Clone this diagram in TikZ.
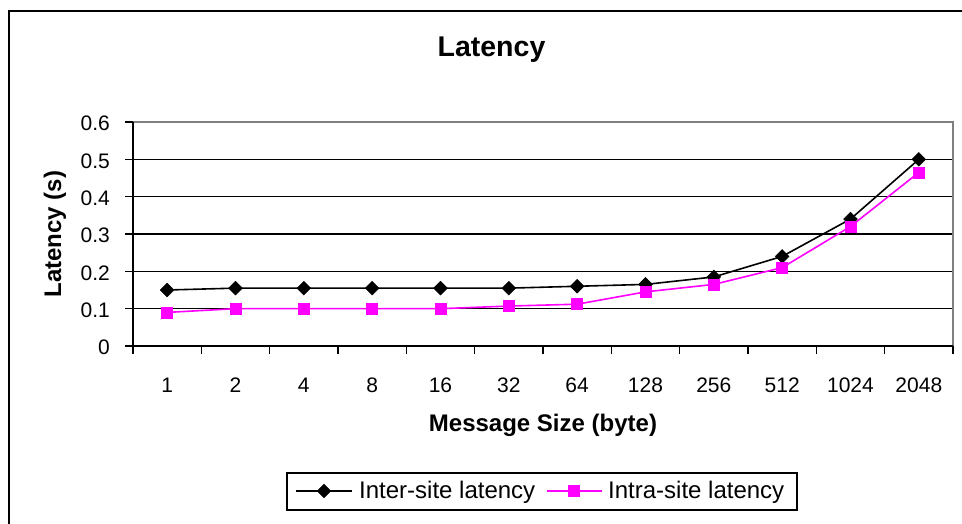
\documentclass[tikz,border=0pt]{standalone}
\usepackage{fontspec}
\setmainfont{Liberation Sans}
\usepackage{tikz}
\usetikzlibrary{shapes.geometric}

\definecolor{intracol}{RGB}{255,0,255}

\tikzset{
  ticklabel/.style = {font=\fontsize{21}{24}\selectfont, inner sep=0pt},
  axistitle/.style = {font=\fontsize{24}{28}\selectfont\bfseries, inner sep=0pt},
  legendtext/.style = {font=\fontsize{24}{28}\selectfont, inner sep=0pt, anchor=west},
  intermark/.style = {diamond, fill=black, draw=black, inner sep=0pt, minimum size=14pt},
  intramark/.style = {rectangle, fill=intracol, draw=intracol, inner sep=0pt, minimum size=11pt},
}

\begin{document}
\begin{tikzpicture}[x=1pt, y=-1pt]
		\useasboundingbox (0, 0) rectangle (962, 523);
		% chart frame
		\draw [line width = 2.5pt] (9, 11) rectangle (980, 540);
		\node [axistitle, font=\fontsize{28.5}{32}\selectfont\bfseries, anchor=base] (title) at (491.5, 56) {Latency};
		% grid and value axis
		\foreach \v/\lab in {0.1/0.1, 0.2/0.2, 0.3/0.3, 0.4/0.4, 0.5/0.5} {
			\draw [line width = 1.3pt] (133, {346-\v*373.33}) -- (953, {346-\v*373.33});
		}
		\draw [gray, line width = 1.5pt] (133, 122) -- (953, 122) -- (953, 346);
		\foreach \v/\lab in {0/0, 0.1/0.1, 0.2/0.2, 0.3/0.3, 0.4/0.4, 0.5/0.5, 0.6/0.6} {
			\draw [line width = 1.3pt] (125, {346-\v*373.33}) -- (133, {346-\v*373.33});
			\node [ticklabel, anchor=east] (y\lab) at (110, {347.5-\v*373.33}) {\lab};
		}
		\draw [line width = 1.5pt] (133, 122) -- (133, 354);
		\draw [line width = 1.5pt] (133, 346) -- (953, 346);
		% category axis
		\foreach \i in {1, ..., 12} {
			\draw [line width = 1.3pt] ({133+\i*68.333}, 346) -- ({133+\i*68.333}, 354);
		}
		\foreach \lab [count = \i] in {1, 2, 4, 8, 16, 32, 64, 128, 256, 512, 1024, 2048} {
			\node [ticklabel, anchor=base] (x\i) at ({133+(\i-0.5)*68.333}, 392) {\lab};
		}
		\node [axistitle, anchor=base] (xtitle) at (543, 431) {Message Size (byte)};
		\node [axistitle, rotate=90] (ytitle) at (55, 234) {Latency (s)};
		% data
		\foreach \v [count = \i] in {0.15, 0.155, 0.155, 0.155, 0.155, 0.155, 0.16, 0.165, 0.185, 0.24, 0.34, 0.5} {
			\coordinate (a\i) at ({133+(\i-0.5)*68.333}, {346-\v*373.33});
		}
		\foreach \v [count = \i] in {0.09, 0.1, 0.1, 0.1, 0.1, 0.107, 0.112, 0.145, 0.165, 0.21, 0.32, 0.465} {
			\coordinate (b\i) at ({133+(\i-0.5)*68.333}, {346-\v*373.33});
		}
		\draw [line width = 1.6pt] (a1) \foreach \i in {2, ..., 12} { -- (a\i) };
		\draw [intracol, line width = 1.6pt] (b1) \foreach \i in {2, ..., 12} { -- (b\i) };
		\foreach \i in {1, ..., 12} {
			\node [intermark] (ma\i) at (a\i) {};
			\node [intramark] (mb\i) at (b\i) {};
		}
		% legend
		\draw [line width = 1.3pt] (287, 473) rectangle (797, 510);
		\coordinate (l1s) at (296, 491);
		\coordinate (l1e) at (352, 491);
		\draw [line width = 1.6pt] (l1s) -- (l1e);
		\node [intermark] (la) at (324, 491) {};
		\node [legendtext] (ltxa) at (359, 492) {Inter-site latency};
		\coordinate (l2s) at (547, 491);
		\coordinate (l2e) at (602, 491);
		\draw [intracol, line width = 1.6pt] (l2s) -- (l2e);
		\node [intramark] (lb) at (574, 491) {};
		\node [legendtext] (ltxb) at (608, 492) {Intra-site latency};
	\end{tikzpicture}
\end{document}
